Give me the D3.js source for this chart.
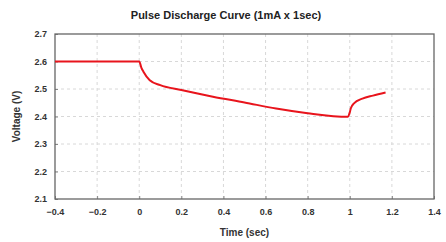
<!DOCTYPE html>
<html lang="en">
<head>
  <meta charset="UTF-8">
  <title>Pulse Discharge Curve</title>
  <script src="https://d3js.org/d3.v7.min.js"></script>
  <style>
    body { margin: 0; background: #fff; font-family: Arial, "Liberation Sans", sans-serif; }
    .grid line { stroke: #d8d8d8; stroke-dasharray: 3,3; }
    .tick text { font-size: 9px; font-weight: bold; fill: #333; }
  </style>
</head>
<body>
<div id="viz"></div>
<script>
// Data
var timeSec = [-0.4, 0, 0.01, 0.02, 0.05, 0.1, 0.2, 0.35, 0.5, 0.65, 0.8, 0.99, 1.0, 1.005, 1.02, 1.06, 1.11, 1.17];
var voltage = [2.6, 2.6, 2.578, 2.563, 2.532, 2.514, 2.496, 2.472, 2.451, 2.429, 2.412, 2.399, 2.415, 2.43, 2.448, 2.465, 2.476, 2.487];
var xTicks = [-0.4, -0.2, 0, 0.2, 0.4, 0.6, 0.8, 1, 1.2, 1.4];
var yTicks = [2.1, 2.2, 2.3, 2.4, 2.5, 2.6, 2.7];

var W = 446, H = 242;
var margin = { top: 34, right: 12, bottom: 43, left: 55 };

var svg = d3.select("#viz").append("svg")
    .attr("width", W)
    .attr("height", H);

var x = d3.scaleLinear().domain([-0.4, 1.4]).range([margin.left, W - margin.right]);
var y = d3.scaleLinear().domain([2.1, 2.7]).range([H - margin.bottom, margin.top]);

// grid
svg.append("g").attr("class", "grid")
  .selectAll("line").data(xTicks.slice(1, -1)).enter().append("line")
    .attr("x1", d => x(d)).attr("x2", d => x(d))
    .attr("y1", y(2.7)).attr("y2", y(2.1));
svg.append("g").attr("class", "grid")
  .selectAll("line").data(yTicks.slice(1, -1)).enter().append("line")
    .attr("x1", x(-0.4)).attr("x2", x(1.4))
    .attr("y1", d => y(d)).attr("y2", d => y(d));

// axes
var xAxis = svg.append("g")
    .attr("transform", "translate(0," + y(2.1) + ")")
    .call(d3.axisBottom(x).tickValues(xTicks).tickFormat(d3.format("")).tickSizeInner(-3).tickSizeOuter(0).tickPadding(10));
var yAxis = svg.append("g")
    .attr("transform", "translate(" + x(-0.4) + ",0)")
    .call(d3.axisLeft(y).tickValues(yTicks).tickFormat(d3.format(".1f")).tickSizeInner(-3).tickSizeOuter(0).tickPadding(8));
xAxis.select(".domain").remove();
yAxis.select(".domain").remove();
svg.selectAll(".tick line").attr("stroke", "#888");

// frame
svg.append("rect")
    .attr("x", x(-0.4)).attr("y", y(2.7))
    .attr("width", x(1.4) - x(-0.4)).attr("height", y(2.1) - y(2.7))
    .attr("fill", "none").attr("stroke", "#666").attr("stroke-width", 1.3);

// curve
var line = d3.line()
    .x((d, i) => x(timeSec[i]))
    .y(d => y(d))
    .curve(d3.curveMonotoneX);
svg.append("path")
    .datum(voltage)
    .attr("d", line)
    .attr("fill", "none")
    .attr("stroke", "#e8141c")
    .attr("stroke-width", 2);

// titles
svg.append("text")
    .attr("x", 226).attr("y", 19)
    .attr("text-anchor", "middle")
    .style("font-size", "11px").style("font-weight", "bold").style("fill", "#222")
    .text("Pulse Discharge Curve (1mA x 1sec)");
svg.append("text")
    .attr("x", (x(-0.4) + x(1.4)) / 2).attr("y", 236)
    .attr("text-anchor", "middle")
    .style("font-size", "10px").style("font-weight", "bold").style("fill", "#333")
    .text("Time (sec)");
svg.append("text")
    .attr("transform", "translate(20," + (y(2.4)) + ") rotate(-90)")
    .attr("text-anchor", "middle")
    .style("font-size", "10px").style("font-weight", "bold").style("fill", "#333")
    .text("Voltage (V)");
</script>
</body>
</html>
